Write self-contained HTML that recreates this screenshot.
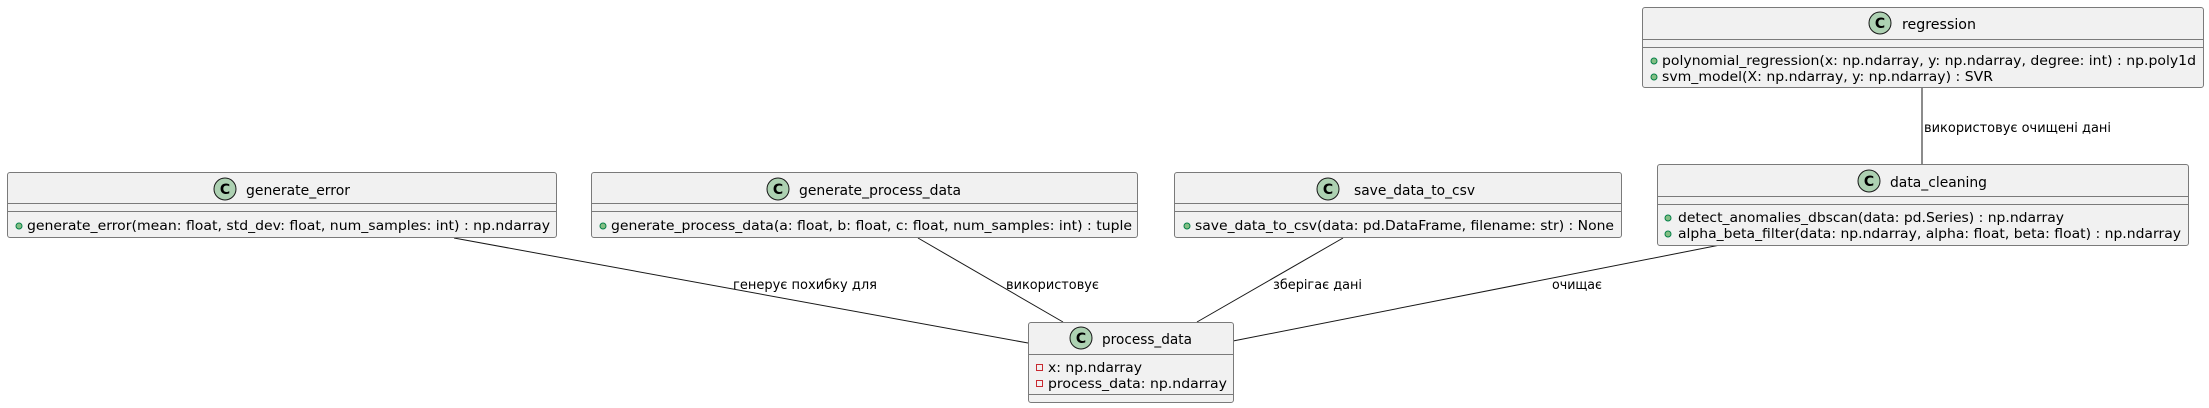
<!DOCTYPE html>
<html><head><meta charset="utf-8"><style>
html,body{margin:0;padding:0;background:#fff;}
svg{display:block;}
text{font-family:"DejaVu Sans","Liberation Sans",sans-serif;font-size:13px;fill:#000;}
.t{font-size:14px;}
.box{fill:#F1F1F1;stroke:#7a7a7a;stroke-width:1;}
.sep{stroke:#7a7a7a;stroke-width:1;}
.ln{stroke:#181818;stroke-width:1;fill:none;}
.ci{fill:#ADD1B2;stroke:#181818;stroke-width:1;}
.cc{font-weight:bold;font-size:14px;}
.pub{fill:#84BE84;stroke:#038048;stroke-width:1;}
.pri{fill:none;stroke:#C82930;stroke-width:1;}
</style></head><body>
<svg width="2209" height="408" viewBox="0 0 2209 408" xmlns="http://www.w3.org/2000/svg">
<!-- connectors -->
<line class="ln" x1="454" y1="238" x2="1028" y2="343"/>
<line class="ln" x1="918" y1="238" x2="1063" y2="322"/>
<line class="ln" x1="1343" y1="238" x2="1197" y2="322"/>
<line class="ln" x1="1720" y1="245" x2="1233" y2="341"/>
<line class="ln" x1="1922" y1="88" x2="1922" y2="164"/>
<text x="733" y="289" textLength="144" lengthAdjust="spacingAndGlyphs">генерує похибку для</text>
<text x="1006" y="289" textLength="93" lengthAdjust="spacingAndGlyphs">використовує</text>
<text x="1273" y="289" textLength="89" lengthAdjust="spacingAndGlyphs">зберігає дані</text>
<text x="1552" y="289" textLength="50" lengthAdjust="spacingAndGlyphs">очищає</text>
<text x="1924" y="132" textLength="187" lengthAdjust="spacingAndGlyphs">використовує очищені дані</text>

<!-- generate_error -->
<rect class="box" x="7.5" y="172.5" width="549" height="65" rx="2.5"/>
<line class="sep" x1="7.5" y1="203.5" x2="556.5" y2="203.5"/>
<line class="sep" x1="7.5" y1="211.5" x2="556.5" y2="211.5"/>
<circle class="ci" cx="225" cy="189" r="11"/><text class="cc" x="225" y="194" text-anchor="middle">C</text>
<text class="t" x="246" y="195" textLength="104" lengthAdjust="spacingAndGlyphs">generate_error</text>
<circle class="pub" cx="19" cy="226" r="3"/>
<text x="27" y="230" textLength="523" lengthAdjust="spacingAndGlyphs">generate_error(mean: float, std_dev: float, num_samples: int) : np.ndarray</text>

<!-- generate_process_data -->
<rect class="box" x="591.5" y="172.5" width="546" height="65" rx="2.5"/>
<line class="sep" x1="591.5" y1="203.5" x2="1137.5" y2="203.5"/>
<line class="sep" x1="591.5" y1="211.5" x2="1137.5" y2="211.5"/>
<circle class="ci" cx="778" cy="189" r="11"/><text class="cc" x="778" y="194" text-anchor="middle">C</text>
<text class="t" x="799" y="195" textLength="162" lengthAdjust="spacingAndGlyphs">generate_process_data</text>
<circle class="pub" cx="603" cy="226" r="3"/>
<text x="611" y="230" textLength="521" lengthAdjust="spacingAndGlyphs">generate_process_data(a: float, b: float, c: float, num_samples: int) : tuple</text>

<!-- save_data_to_csv -->
<rect class="box" x="1174.5" y="172.5" width="447" height="65" rx="2.5"/>
<line class="sep" x1="1174.5" y1="203.5" x2="1621.5" y2="203.5"/>
<line class="sep" x1="1174.5" y1="211.5" x2="1621.5" y2="211.5"/>
<circle class="ci" cx="1328" cy="189" r="11"/><text class="cc" x="1328" y="194" text-anchor="middle">C</text>
<text class="t" x="1354" y="195" textLength="121" lengthAdjust="spacingAndGlyphs">save_data_to_csv</text>
<circle class="pub" cx="1187" cy="226" r="3"/>
<text x="1195" y="230" textLength="419" lengthAdjust="spacingAndGlyphs">save_data_to_csv(data: pd.DataFrame, filename: str) : None</text>

<!-- regression -->
<rect class="box" x="1642.5" y="7.5" width="561" height="80" rx="2.5"/>
<line class="sep" x1="1642.5" y1="39.5" x2="2203.5" y2="39.5"/>
<line class="sep" x1="1642.5" y1="47.5" x2="2203.5" y2="47.5"/>
<circle class="ci" cx="1880" cy="23" r="11"/><text class="cc" x="1880" y="28" text-anchor="middle">C</text>
<text class="t" x="1902" y="29" textLength="74" lengthAdjust="spacingAndGlyphs">regression</text>
<circle class="pub" cx="1654" cy="61" r="3"/>
<text x="1662" y="65" textLength="534" lengthAdjust="spacingAndGlyphs">polynomial_regression(x: np.ndarray, y: np.ndarray, degree: int) : np.poly1d</text>
<circle class="pub" cx="1654" cy="77" r="3"/>
<text x="1662" y="81" textLength="331" lengthAdjust="spacingAndGlyphs">svm_model(X: np.ndarray, y: np.ndarray) : SVR</text>

<!-- data_cleaning -->
<rect class="box" x="1657.5" y="164.5" width="531" height="81" rx="2.5"/>
<line class="sep" x1="1657.5" y1="196.5" x2="2188.5" y2="196.5"/>
<line class="sep" x1="1657.5" y1="204.5" x2="2188.5" y2="204.5"/>
<circle class="ci" cx="1869" cy="181" r="11"/><text class="cc" x="1869" y="186" text-anchor="middle">C</text>
<text class="t" x="1890" y="187" textLength="97" lengthAdjust="spacingAndGlyphs">data_cleaning</text>
<circle class="pub" cx="1668" cy="218" r="3"/>
<text x="1678" y="222" textLength="386" lengthAdjust="spacingAndGlyphs">detect_anomalies_dbscan(data: pd.Series) : np.ndarray</text>
<circle class="pub" cx="1668" cy="234" r="3"/>
<text x="1678" y="238" textLength="503" lengthAdjust="spacingAndGlyphs">alpha_beta_filter(data: np.ndarray, alpha: float, beta: float) : np.ndarray</text>

<!-- process_data -->
<rect class="box" x="1028.5" y="322.5" width="205" height="80" rx="2.5"/>
<line class="sep" x1="1028.5" y1="354.5" x2="1233.5" y2="354.5"/>
<line class="sep" x1="1028.5" y1="394.5" x2="1233.5" y2="394.5"/>
<circle class="ci" cx="1081" cy="338" r="11"/><text class="cc" x="1081" y="343" text-anchor="middle">C</text>
<text class="t" x="1102" y="344" textLength="90" lengthAdjust="spacingAndGlyphs">process_data</text>
<rect class="pri" x="1036.5" y="364.5" width="6" height="6"/>
<text x="1048" y="372" textLength="94" lengthAdjust="spacingAndGlyphs">x: np.ndarray</text>
<rect class="pri" x="1036.5" y="380.5" width="6" height="6"/>
<text x="1048" y="388" textLength="179" lengthAdjust="spacingAndGlyphs">process_data: np.ndarray</text>
</svg>
</body></html>
